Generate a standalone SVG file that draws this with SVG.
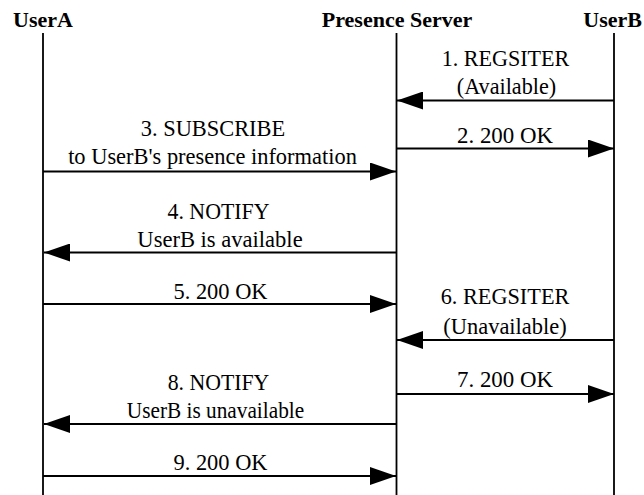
<svg xmlns="http://www.w3.org/2000/svg" width="644" height="495" viewBox="0 0 644 495">
  <style>
    .head { font-family: "Liberation Serif", "Times New Roman", serif; font-size: 22px; font-weight: bold; fill: #000; }
    .lbl { font-family: "Liberation Serif", "Times New Roman", serif; font-size: 24px; fill: #000; text-anchor: middle; }
    .life { stroke: #000; stroke-width: 1.8; fill: none; }
    .msg { stroke: #000; stroke-width: 1.8; fill: none; }
  </style>
  <defs>
    <marker id="ah" viewBox="0 0 26 18" refX="26" refY="9" markerWidth="26" markerHeight="18" markerUnits="userSpaceOnUse" orient="auto">
      <path d="M0,0 L26,9 L0,18 Z" fill="#000"/>
    </marker>
  </defs>
  <rect width="644" height="495" fill="#fff"/>

  <!-- participants with their lifelines -->
  <g id="userA">
    <text class="head" x="13" y="26.5">UserA</text>
    <line class="life" x1="43" y1="33" x2="43" y2="495"/>
  </g>
  <g id="presenceServer">
    <text class="head" x="397" y="26.5" text-anchor="middle">Presence Server</text>
    <line class="life" x1="396.5" y1="33" x2="396.5" y2="495"/>
  </g>
  <g id="userB">
    <text class="head" x="642" y="26.5" text-anchor="end">UserB</text>
    <line class="life" x1="614" y1="33" x2="614" y2="495"/>
  </g>

  <!-- messages -->
  <g id="connectors">
    <line class="msg" x1="614" y1="100.5" x2="397" y2="100.5" marker-end="url(#ah)"/>
    <line class="msg" x1="397" y1="148.5" x2="614" y2="148.5" marker-end="url(#ah)"/>
    <line class="msg" x1="43" y1="171.5" x2="396" y2="171.5" marker-end="url(#ah)"/>
    <line class="msg" x1="396" y1="252.5" x2="44" y2="252.5" marker-end="url(#ah)"/>
    <line class="msg" x1="43" y1="304" x2="396" y2="304" marker-end="url(#ah)"/>
    <line class="msg" x1="614" y1="340" x2="397" y2="340" marker-end="url(#ah)"/>
    <line class="msg" x1="397" y1="394" x2="614" y2="394" marker-end="url(#ah)"/>
    <line class="msg" x1="396" y1="424" x2="44" y2="424" marker-end="url(#ah)"/>
    <line class="msg" x1="43" y1="476" x2="396" y2="476" marker-end="url(#ah)"/>
  </g>

  <!-- message labels -->
  <g id="labels">
    <text class="lbl" x="505.5" y="66" textLength="127.7" lengthAdjust="spacingAndGlyphs">1. REGSITER</text>
    <text class="lbl" x="506.5" y="93.5" textLength="99.3" lengthAdjust="spacingAndGlyphs">(Available)</text>
    <text class="lbl" x="505" y="142.5" textLength="96" lengthAdjust="spacingAndGlyphs">2. 200 OK</text>
    <text class="lbl" x="213" y="136" textLength="144.3" lengthAdjust="spacingAndGlyphs">3. SUBSCRIBE</text>
    <text class="lbl" x="212.5" y="163.5" textLength="288.7" lengthAdjust="spacingAndGlyphs">to UserB's presence information</text>
    <text class="lbl" x="218.5" y="218.5" textLength="102" lengthAdjust="spacingAndGlyphs">4. NOTIFY</text>
    <text class="lbl" x="220" y="246.5" textLength="165.3" lengthAdjust="spacingAndGlyphs">UserB is available</text>
    <text class="lbl" x="220.5" y="298.5" textLength="94" lengthAdjust="spacingAndGlyphs">5. 200 OK</text>
    <text class="lbl" x="505" y="304" textLength="128.7" lengthAdjust="spacingAndGlyphs">6. REGSITER</text>
    <text class="lbl" x="505" y="333.5" textLength="123.3" lengthAdjust="spacingAndGlyphs">(Unavailable)</text>
    <text class="lbl" x="505" y="386.5" textLength="96" lengthAdjust="spacingAndGlyphs">7. 200 OK</text>
    <text class="lbl" x="218.5" y="390" textLength="101.7" lengthAdjust="spacingAndGlyphs">8. NOTIFY</text>
    <text class="lbl" x="215.5" y="418" textLength="177.3" lengthAdjust="spacingAndGlyphs">UserB is unavailable</text>
    <text class="lbl" x="220.5" y="469.5" textLength="94" lengthAdjust="spacingAndGlyphs">9. 200 OK</text>
  </g>
</svg>
